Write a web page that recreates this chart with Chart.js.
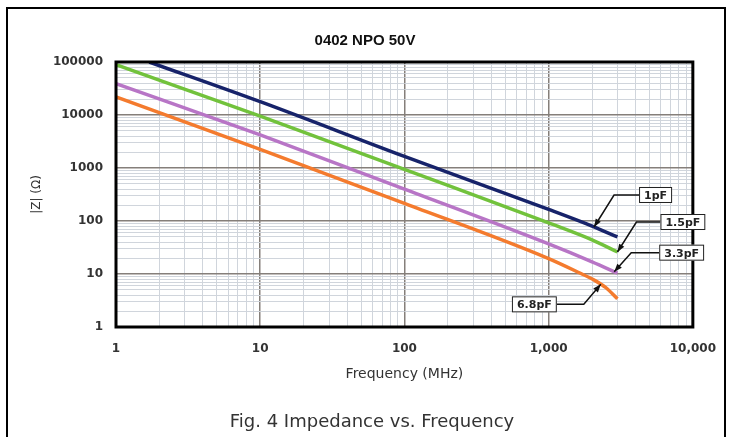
<!DOCTYPE html>
<html>
<head>
<meta charset="utf-8">
<script src="https://cdn.jsdelivr.net/npm/chart.js@4/dist/chart.umd.min.js"></script>
<style>
    html, body { margin: 0; padding: 0; background: #fff; }
</style>
</head>
<body>
<canvas id="zChart" width="731" height="437"></canvas>
<script>
/* ============================
   0402 NPO 50V - |Z| vs frequency
   ============================ */

// Series data (MHz, ohms)
const seriesNames = ['1pF', '1.5pF', '3.3pF', '6.8pF'];
const freq1pF = [1.7, 10, 100, 1000, 2000, 3000];
const z1pF = [100000, 17800, 1650, 165, 80, 50];
const freq15pF = [1, 10, 100, 1000, 2000, 3000];
const z15pF = [89000, 9500, 940, 92, 44, 26];
const freq33pF = [1, 10, 100, 1000, 2000, 3000];
const z33pF = [39000, 4200, 400, 37, 17, 10.4];
const freq68pF = [1, 10, 100, 1000, 1600, 2100, 2500, 3000];
const z68pF = [22000, 2250, 215, 19.5, 10.8, 7.5, 5.5, 3.4];

// Axis ranges and labelled ticks
const xDecades = [1, 10, 100, 1000, 10000];
const yDecades = [1, 10, 100, 1000, 10000, 100000];

const colors = ['#17236a', '#72c23c', '#b875c6', '#f47b2e'];

const TEXT = '#333';
const FONT = 'DejaVu Sans';

function toPoints(xs, ys) {
    return xs.map((x, i) => ({ x, y: ys[i] }));
}

const seriesPoints = [
    toPoints(freq1pF, z1pF),
    toPoints(freq15pF, z15pF),
    toPoints(freq33pF, z33pF),
    toPoints(freq68pF, z68pF)
];

// Callout tags: which series, the frequency the arrow points at
const tags = [
    { series: 0, at: 2065, elbow: [20, -32], box: 45, side: 'right' },
    { series: 1, at: 3000, elbow: [19, -30], box: 43, side: 'right' },
    { series: 2, at: 2850, elbow: [17, -19], box: 45, side: 'right' },
    { series: 3, at: 2300, elbow: [-17, 20], box: 44, side: 'left' }
];

function isDecade(v) {
    const l = Math.log10(v);
    return Math.abs(l - Math.round(l)) < 1e-6;
}

function logTicks(decades) {
    const ticks = [];
    for (let i = 0; i < decades.length - 1; i++) {
        for (let k = 1; k < 10; k++) ticks.push({ value: decades[i] * k });
    }
    ticks.push({ value: decades[decades.length - 1] });
    return ticks;
}

// log-log interpolation on a series, to place the arrow tips on the curve
function valueAt(pts, f) {
    for (let i = 0; i < pts.length - 1; i++) {
        const a = pts[i], b = pts[i + 1];
        if (f >= a.x && f <= b.x) {
            const t = (Math.log10(f) - Math.log10(a.x)) / (Math.log10(b.x) - Math.log10(a.x));
            return Math.pow(10, Math.log10(a.y) + t * (Math.log10(b.y) - Math.log10(a.y)));
        }
    }
    return pts[pts.length - 1].y;
}

const decorPlugin = {
    id: 'decor',
    afterDraw(chart) {
        const { ctx, chartArea: area, scales } = chart;
        ctx.save();

        // plot frame
        ctx.strokeStyle = '#000';
        ctx.lineWidth = 3;
        ctx.strokeRect(area.left, area.top, area.right - area.left, area.bottom - area.top);

        // outer figure frame
        ctx.lineWidth = 2;
        ctx.strokeRect(7, 8, 718, 440);

        // titles
        ctx.fillStyle = '#111';
        ctx.textAlign = 'center';
        ctx.textBaseline = 'middle';
        ctx.font = 'bold 15px "Liberation Sans"';
        ctx.fillText('0402 NPO 50V', 365, 41);

        ctx.fillStyle = TEXT;
        ctx.font = `14px "${FONT}"`;
        ctx.fillText('Frequency (MHz)', (area.left + area.right) / 2, 374);

        ctx.font = `18px "${FONT}"`;
        ctx.fillText('Fig. 4 Impedance vs. Frequency', 372, 422);

        ctx.save();
        ctx.translate(37, (area.top + area.bottom) / 2);
        ctx.rotate(-Math.PI / 2);
        ctx.font = `12px "${FONT}"`;
        ctx.fillText('|Z| (\u03A9)', 0, 0);
        ctx.restore();

        // callouts
        tags.forEach(tag => {
            const pts = seriesPoints[tag.series];
            const tx = scales.x.getPixelForValue(tag.at);
            const ty = scales.y.getPixelForValue(valueAt(pts, tag.at));
            const ex = tx + tag.elbow[0];
            const ey = ty + tag.elbow[1];
            const bx = tx + tag.box * (tag.side === 'right' ? 1 : -1);

            ctx.strokeStyle = '#111';
            ctx.fillStyle = '#111';
            ctx.lineWidth = 1.5;
            ctx.beginPath();
            ctx.moveTo(bx, ey);
            ctx.lineTo(ex, ey);
            ctx.lineTo(tx, ty);
            ctx.stroke();

            // arrow head
            const ang = Math.atan2(ty - ey, tx - ex);
            ctx.beginPath();
            ctx.moveTo(tx, ty);
            ctx.lineTo(tx - 8 * Math.cos(ang) + 3 * Math.sin(ang), ty - 8 * Math.sin(ang) - 3 * Math.cos(ang));
            ctx.lineTo(tx - 8 * Math.cos(ang) - 3 * Math.sin(ang), ty - 8 * Math.sin(ang) + 3 * Math.cos(ang));
            ctx.closePath();
            ctx.fill();

            // label box
            const label = seriesNames[tag.series];
            ctx.font = `bold 11px "${FONT}"`;
            const w = ctx.measureText(label).width + 10;
            const h = 16;
            const left = tag.side === 'right' ? bx : bx - w;
            ctx.fillStyle = '#fff';
            ctx.fillRect(left, ey - h / 2, w, h);
            ctx.lineWidth = 1;
            ctx.strokeStyle = '#222';
            ctx.strokeRect(left + 0.5, ey - h / 2 + 0.5, w - 1, h - 1);
            ctx.fillStyle = '#222';
            ctx.textAlign = 'center';
            ctx.fillText(label, left + w / 2, ey + 1);
        });

        ctx.restore();
    }
};

function gridColor(c) {
    return c.tick && isDecade(c.tick.value) ? '#857f7a' : '#d0d5dc';
}
function gridWidth(c) {
    return c.tick && isDecade(c.tick.value) ? 1.5 : 1;
}

new Chart(document.getElementById('zChart'), {
    type: 'line',
    data: {
        datasets: seriesPoints.map((pts, i) => ({
            label: seriesNames[i],
            data: pts,
            borderColor: colors[i],
            borderWidth: 3.5,
            pointRadius: 0,
            fill: false,
            cubicInterpolationMode: 'monotone'
        }))
    },
    options: {
        responsive: false,
        animation: false,
        layout: { padding: { left: 0, top: 62, right: 37, bottom: 0 } },
        plugins: {
            legend: { display: false },
            tooltip: { enabled: false }
        },
        scales: {
            x: {
                type: 'logarithmic',
                min: xDecades[0],
                max: xDecades[xDecades.length - 1],
                afterBuildTicks: s => { s.ticks = logTicks(xDecades); },
                afterFit: s => { s.height = 110; },
                grid: { color: gridColor, lineWidth: gridWidth, drawTicks: false },
                border: { display: false },
                ticks: {
                    autoSkip: false,
                    maxRotation: 0,
                    padding: 15,
                    color: TEXT,
                    font: { family: FONT, size: 12, weight: 'bold' },
                    callback: v => isDecade(v) ? Number(v).toLocaleString('en-US') : ''
                }
            },
            y: {
                type: 'logarithmic',
                min: yDecades[0],
                max: yDecades[yDecades.length - 1],
                afterBuildTicks: s => { s.ticks = logTicks(yDecades); },
                afterFit: s => { s.width = 116; },
                grid: { color: gridColor, lineWidth: gridWidth, drawTicks: false },
                border: { display: false },
                ticks: {
                    autoSkip: false,
                    padding: 13,
                    color: TEXT,
                    font: { family: FONT, size: 12, weight: 'bold' },
                    callback: v => isDecade(v) ? String(v) : ''
                }
            }
        }
    },
    plugins: [decorPlugin]
});
</script>
</body>
</html>
